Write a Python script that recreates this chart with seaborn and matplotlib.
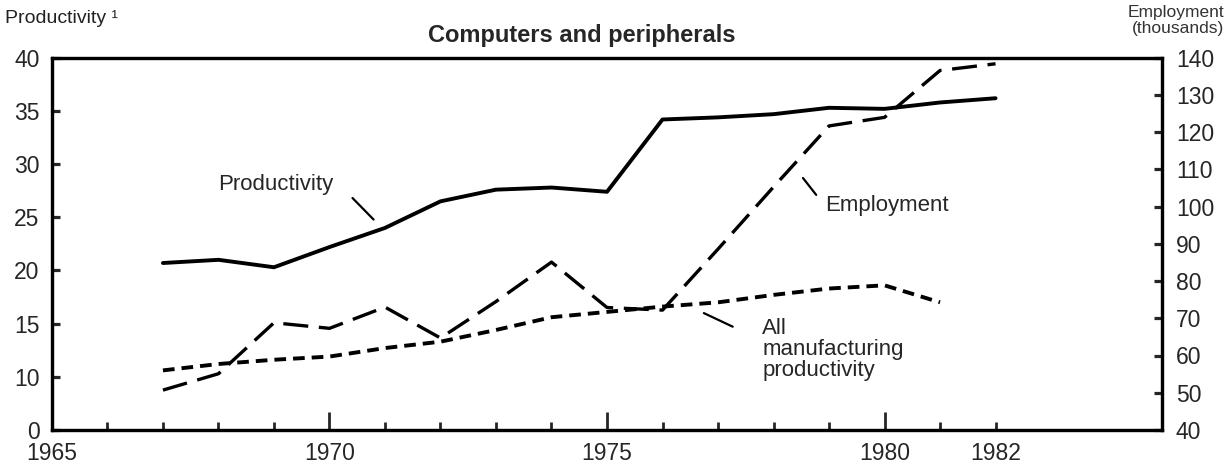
import matplotlib
matplotlib.use("Agg")
import matplotlib.pyplot as plt
import pandas as pd
import seaborn as sns

years = list(range(1967, 1983))
productivity = [20.7, 21.0, 20.3, 22.2, 24.0, 26.5, 27.6, 27.8, 27.4,
                34.2, 34.4, 34.7, 35.3, 35.2, 35.8, 36.2]
employment = [50.7, 55.1, 68.8, 67.3, 73.0, 64.7, 74.5, 85.1, 72.9,
              72.2, 88.6, 105.3, 121.7, 124.0, 136.6, 138.4]
mfg_years = list(range(1967, 1982))
mfg_productivity = [10.6, 11.2, 11.6, 11.9, 12.7, 13.3, 14.4, 15.6, 16.1,
                    16.6, 17.0, 17.7, 18.3, 18.6, 17.0]

left_ticks = [5, 10, 15, 20, 25, 30, 35, 40]
left_labels = ["0", "10", "15", "20", "25", "30", "35", "40"]
right_ticks = list(range(40, 141, 10))
x_labels = [1965, 1970, 1975, 1980, 1982]

FONT = ["Liberation Sans", "DejaVu Sans"]


def main():
    sns.set_style("ticks")
    plt.rcParams["font.family"] = FONT
    plt.rcParams["axes.linewidth"] = 2.3

    fig = plt.figure(figsize=(12.28, 4.74), dpi=100)
    ax = fig.add_axes([0.0423, 0.093, 0.904, 0.785])
    ax2 = ax.twinx()

    df = pd.DataFrame({"year": years, "prod": productivity, "emp": employment})
    mfg = pd.DataFrame({"year": mfg_years, "prod": mfg_productivity})

    sns.lineplot(data=df, x="year", y="prod", ax=ax, color="black", lw=2.8)
    sns.lineplot(data=mfg, x="year", y="prod", ax=ax, color="black", lw=2.8,
                 linestyle=(0, (3.0, 1.8)))
    sns.lineplot(data=df, x="year", y="emp", ax=ax2, color="black", lw=2.4,
                 linestyle=(0, (7.5, 3.2)))

    ax.set_xlim(1965, 1985)
    ax.set_ylim(5, 40)
    ax2.set_ylim(40, 140)
    ax.set_xlabel("")
    ax.set_ylabel("")
    ax2.set_ylabel("")

    for a in (ax, ax2):
        for s in a.spines.values():
            s.set_visible(True)
            s.set_linewidth(2.3)
            s.set_color("black")

    ax.set_yticks(left_ticks)
    ax.set_yticklabels(left_labels)
    ax.tick_params(axis="y", direction="in", length=6, width=2.3, pad=9,
                   labelsize=16.5)
    ax2.set_yticks(right_ticks)
    ax2.tick_params(axis="y", direction="in", length=6, width=2.3, pad=10,
                    labelsize=16.5)

    ax.set_xticks(x_labels)
    ax.set_xticklabels([str(y) for y in x_labels])
    ax.set_xticks([y for y in range(1966, 1983) if y not in x_labels], minor=True)
    ax.tick_params(axis="x", which="both", direction="in", width=2.0,
                   pad=9, labelsize=16.5, top=False)
    ax.tick_params(axis="x", which="minor", length=6)
    ax2.tick_params(axis="x", which="both", top=False)
    long_ticks = {1965: 0, 1970: 13, 1975: 13, 1980: 13, 1982: 6}
    for yr, t in zip(x_labels, ax.xaxis.get_major_ticks()):
        t.tick1line.set_markersize(long_ticks[yr])

    # annotations
    ax.text(1968.0, 28.1, "Productivity", fontsize=16, va="center", ha="left")
    ax.annotate("", xy=(1970.83, 24.6), xytext=(1970.38, 27.0),
                arrowprops=dict(arrowstyle="-", lw=1.6, color="black"))
    ax.text(1978.93, 26.1, "Employment", fontsize=16, va="center", ha="left")
    ax.annotate("", xy=(1978.8, 26.9), xytext=(1978.5, 28.9),
                arrowprops=dict(arrowstyle="-", lw=1.6, color="black"))
    ax.text(1977.8, 15.5, "All\nmanufacturing\nproductivity", fontsize=16,
            va="top", ha="left", linespacing=0.98)
    ax.annotate("", xy=(1977.31, 14.6), xytext=(1976.7, 16.1),
                arrowprops=dict(arrowstyle="-", lw=1.6, color="black"))

    fig.text(0.474, 0.926, "Computers and peripherals", fontsize=17,
             fontweight="bold", ha="center", va="center")
    fig.text(0.004, 0.962, "Productivity \u00b9", fontsize=14, ha="left",
             va="center", color="#222222")
    fig.text(0.997, 0.99, "Employment\n(thousands)", fontsize=12.5, ha="right",
             va="top", color="#333333", linespacing=1.1)

    fig.savefig("out.png", dpi=100)
    plt.close(fig)


if __name__ == "__main__":
    main()
